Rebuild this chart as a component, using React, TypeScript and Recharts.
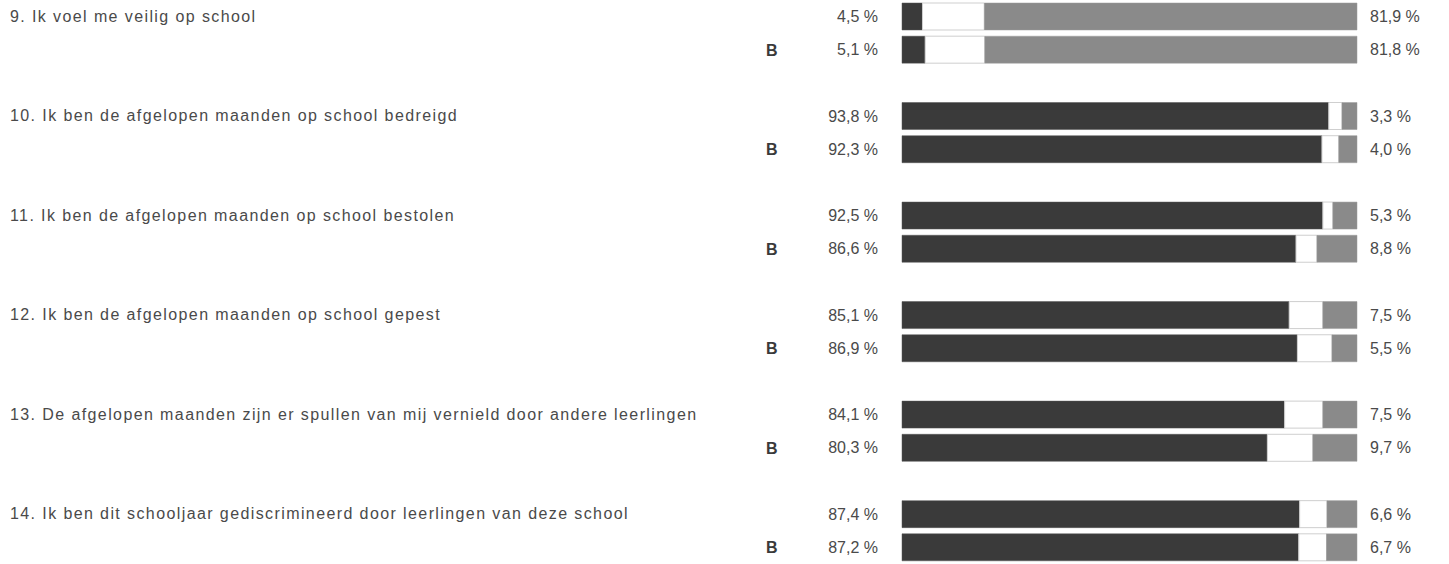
import React from 'react';
import { BarChart, Bar, XAxis, YAxis, LabelList } from 'recharts';

const questions = [
  '9. Ik voel me veilig op school',
  '10. Ik ben de afgelopen maanden op school bedreigd',
  '11. Ik ben de afgelopen maanden op school bestolen',
  '12. Ik ben de afgelopen maanden op school gepest',
  '13. De afgelopen maanden zijn er spullen van mij vernield door andere leerlingen',
  '14. Ik ben dit schooljaar gediscrimineerd door leerlingen van deze school',
];
const schoolLow = [4.5, 93.8, 92.5, 85.1, 84.1, 87.4];
const schoolHigh = [81.9, 3.3, 5.3, 7.5, 7.5, 6.6];
const benchLow = [5.1, 92.3, 86.6, 86.9, 80.3, 87.2];
const benchHigh = [81.8, 4.0, 8.8, 5.5, 9.7, 6.7];

type Row = { key: string; kind: 'school' | 'bench' | 'gap'; label: string; low?: number; mid?: number; high?: number };

const rows: Row[] = [];
questions.forEach((q, i) => {
  if (i > 0) rows.push({ key: 'gap-' + i, kind: 'gap', label: '' });
  rows.push({
    key: 'q-' + i,
    kind: 'school',
    label: q,
    low: schoolLow[i],
    mid: +(100 - schoolLow[i] - schoolHigh[i]).toFixed(1),
    high: schoolHigh[i],
  });
  rows.push({
    key: 'b-' + i,
    kind: 'bench',
    label: 'B',
    low: benchLow[i],
    mid: +(100 - benchLow[i] - benchHigh[i]).toFixed(1),
    high: benchHigh[i],
  });
});

const byKey = new Map(rows.map(r => [r.key, r]));
const font = '"Liberation Sans", Arial, sans-serif';
const textColor = '#4a4a4a';

const fmt = (v: any) => (typeof v === 'number' ? v.toFixed(1).replace('.', ',') + ' %' : '');

const RowTick = (props: any) => {
  const { y, payload } = props;
  const row = byKey.get(payload.value);
  if (!row || row.kind === 'gap') return null;
  if (row.kind === 'school') {
    return (
      <text x={10} y={y} dy={5} fill={textColor} fontSize={16} letterSpacing={1.4} fontFamily={font}>
        {row.label}
      </text>
    );
  }
  return (
    <text x={766} y={y} dy={6} fill="#3a3a3a" fontSize={16} fontWeight="bold" fontFamily={font}>
      {row.label}
    </text>
  );
};

const App: React.FC = () => {
  return (
    <div style={{ position: 'absolute', left: 0, top: 0, width: 1449, height: 564, background: '#fff' }}>
      <BarChart
        width={1449}
        height={564}
        data={rows}
        layout="vertical"
        margin={{ top: 0, right: 92, bottom: 0, left: 0 }}
        barSize={27}
      >
        <XAxis type="number" domain={[0, 100]} hide />
        <YAxis type="category" dataKey="key" width={902} axisLine={false} tickLine={false} tick={<RowTick />} interval={0} />
        <Bar dataKey="low" stackId="a" fill="#3a3a3a" stroke="#555" strokeWidth={0.5} isAnimationActive={false}>
          <LabelList dataKey="low" position="left" offset={24} formatter={fmt} fill={textColor} fontSize={16} fontFamily={font} />
        </Bar>
        <Bar dataKey="mid" stackId="a" fill="#ffffff" stroke="#cfcfcf" strokeWidth={1} isAnimationActive={false} />
        <Bar dataKey="high" stackId="a" fill="#8a8a8a" stroke="#9a9a9a" strokeWidth={0.5} isAnimationActive={false}>
          <LabelList dataKey="high" position="right" offset={13} formatter={fmt} fill={textColor} fontSize={16} fontFamily={font} />
        </Bar>
      </BarChart>
    </div>
  );
};

export default App;
